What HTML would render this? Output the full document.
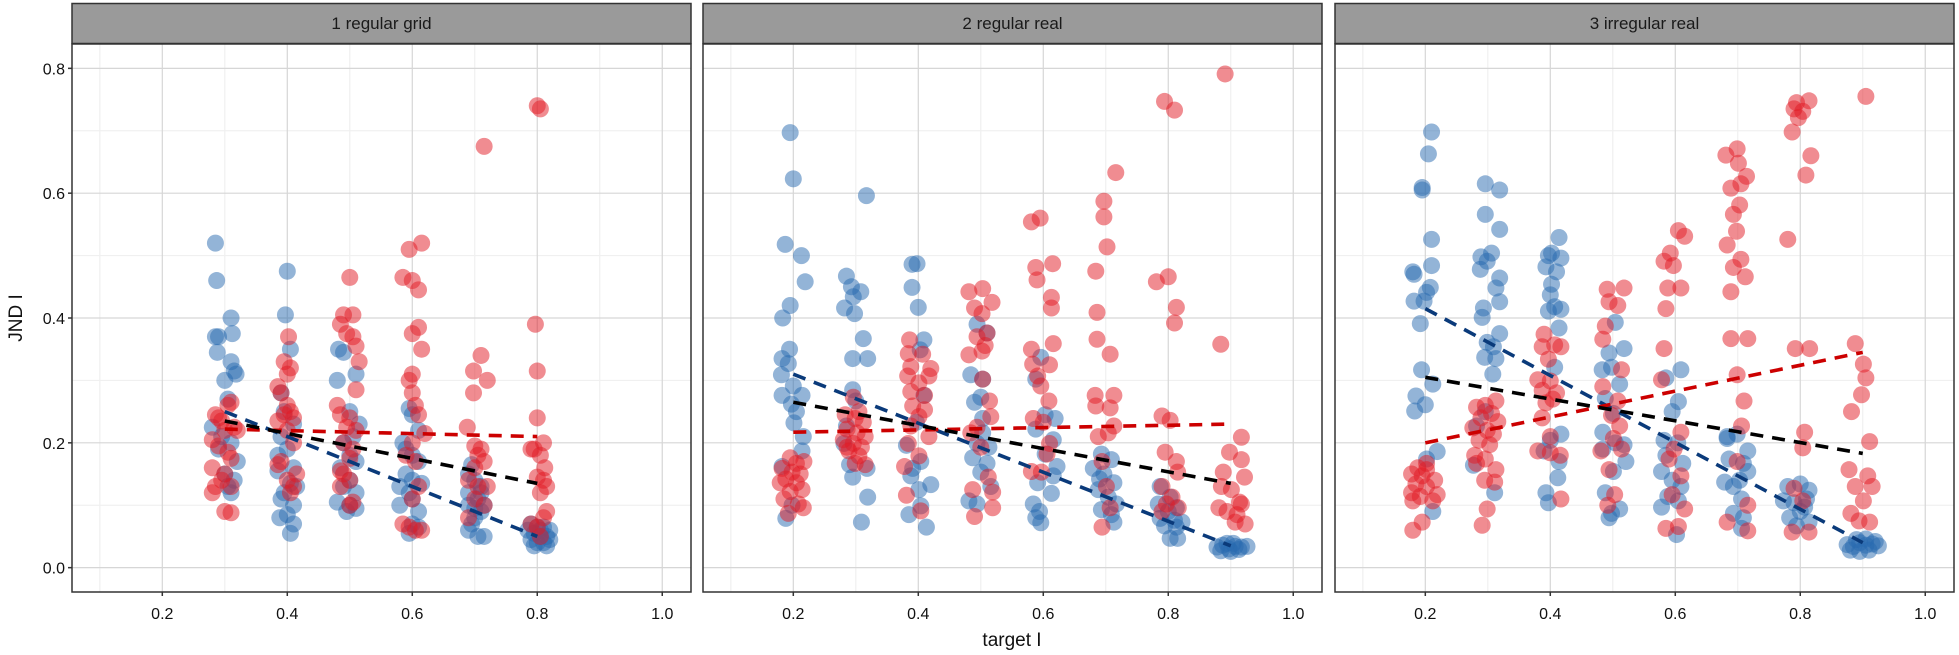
<!DOCTYPE html>
<html><head><meta charset="utf-8"><style>
html,body{margin:0;padding:0;background:#fff;}
svg{display:block;font-family:"Liberation Sans",sans-serif;}
</style></head><body>
<svg id="chart" width="1959" height="655" viewBox="0 0 1959 655" xmlns="http://www.w3.org/2000/svg">
<text x="0" y="0" transform="translate(22,318) rotate(-90)" text-anchor="middle" font-size="19" fill="#111">JND I</text>
<text x="1012" y="646" text-anchor="middle" font-size="19" fill="#111">target I</text>
</svg>
<script>
const panelTitles = ["1 regular grid","2 regular real","3 irregular real"];
const xTicks = [0.2,0.4,0.6,0.8,1.0];
const xTickLabels = ["0.2","0.4","0.6","0.8","1.0"];
const yTicks = [0.0,0.2,0.4,0.6,0.8];
const yTickLabels = ["0.0","0.2","0.4","0.6","0.8"];

const p1Blue = [[0.285,0.52],[0.287,0.46],[0.31,0.40],[0.285,0.37],[0.29,0.37],[0.312,0.375],[0.288,0.345],[0.31,0.33],[0.315,0.315],[0.3,0.30],[0.318,0.31],[0.305,0.27],[0.28,0.225],[0.295,0.21],[0.31,0.2],[0.32,0.17],[0.3,0.15],[0.305,0.13],[0.31,0.12],[0.29,0.19],[0.315,0.14],
[0.4,0.475],[0.397,0.405],[0.405,0.35],[0.39,0.28],[0.395,0.25],[0.41,0.23],[0.39,0.21],[0.385,0.18],[0.4,0.19],[0.41,0.16],[0.385,0.155],[0.405,0.135],[0.395,0.12],[0.41,0.10],[0.39,0.11],[0.388,0.08],[0.4,0.085],[0.41,0.07],[0.405,0.055],[0.415,0.13],
[0.482,0.35],[0.49,0.345],[0.48,0.30],[0.51,0.31],[0.5,0.25],[0.515,0.23],[0.505,0.21],[0.49,0.2],[0.5,0.18],[0.51,0.17],[0.485,0.16],[0.5,0.14],[0.49,0.13],[0.51,0.12],[0.48,0.105],[0.5,0.1],[0.51,0.095],[0.495,0.09],
[0.595,0.255],[0.6,0.245],[0.61,0.22],[0.585,0.2],[0.59,0.19],[0.6,0.18],[0.61,0.17],[0.59,0.15],[0.6,0.14],[0.615,0.135],[0.58,0.13],[0.595,0.12],[0.6,0.11],[0.58,0.1],[0.61,0.09],[0.6,0.07],[0.595,0.055],[0.61,0.065],
[0.695,0.165],[0.69,0.15],[0.7,0.14],[0.71,0.13],[0.69,0.12],[0.705,0.11],[0.69,0.1],[0.7,0.095],[0.71,0.09],[0.7,0.08],[0.695,0.07],[0.69,0.06],[0.705,0.05],[0.715,0.05],[0.71,0.12],[0.715,0.1],
[0.79,0.07],[0.8,0.065],[0.81,0.065],[0.82,0.06],[0.795,0.055],[0.805,0.05],[0.815,0.05],[0.79,0.045],[0.8,0.04],[0.81,0.04],[0.82,0.045],[0.795,0.035],[0.815,0.035],[0.805,0.06],[0.785,0.06]];
const p1Red = [[0.31,0.265],[0.285,0.245],[0.295,0.235],[0.315,0.225],[0.3,0.22],[0.28,0.205],[0.29,0.195],[0.305,0.185],[0.31,0.175],[0.28,0.16],[0.3,0.15],[0.295,0.14],[0.285,0.13],[0.28,0.12],[0.31,0.13],[0.3,0.09],[0.31,0.088],[0.32,0.22],[0.29,0.24],[0.305,0.26],
[0.402,0.37],[0.395,0.33],[0.405,0.32],[0.4,0.31],[0.385,0.29],[0.39,0.28],[0.4,0.26],[0.405,0.25],[0.41,0.24],[0.395,0.245],[0.385,0.235],[0.4,0.22],[0.41,0.2],[0.39,0.17],[0.385,0.165],[0.4,0.14],[0.41,0.13],[0.405,0.12],[0.415,0.15],
[0.5,0.465],[0.49,0.405],[0.505,0.405],[0.485,0.39],[0.495,0.375],[0.505,0.37],[0.51,0.355],[0.515,0.33],[0.51,0.285],[0.48,0.26],[0.485,0.245],[0.5,0.24],[0.495,0.225],[0.51,0.22],[0.49,0.2],[0.505,0.19],[0.5,0.175],[0.485,0.155],[0.49,0.15],[0.5,0.14],[0.485,0.13],[0.505,0.105],[0.5,0.1],
[0.595,0.51],[0.615,0.52],[0.585,0.465],[0.6,0.46],[0.61,0.445],[0.61,0.385],[0.6,0.375],[0.615,0.35],[0.6,0.31],[0.595,0.3],[0.6,0.28],[0.605,0.26],[0.61,0.245],[0.62,0.215],[0.6,0.2],[0.59,0.18],[0.605,0.17],[0.61,0.13],[0.6,0.11],[0.585,0.07],[0.595,0.065],[0.605,0.06],[0.615,0.06],
[0.715,0.675],[0.71,0.34],[0.698,0.315],[0.72,0.3],[0.698,0.28],[0.688,0.225],[0.7,0.195],[0.71,0.19],[0.705,0.18],[0.715,0.17],[0.7,0.16],[0.69,0.14],[0.705,0.13],[0.72,0.13],[0.7,0.11],[0.715,0.1],[0.69,0.08],
[0.8,0.74],[0.805,0.735],[0.797,0.39],[0.8,0.315],[0.8,0.24],[0.81,0.2],[0.795,0.19],[0.79,0.19],[0.805,0.18],[0.812,0.16],[0.8,0.145],[0.81,0.14],[0.815,0.13],[0.805,0.12],[0.815,0.09],[0.81,0.08],[0.8,0.065],[0.79,0.07],[0.805,0.05]];

const p2Blue = [[0.195,0.697],[0.2,0.623],[0.187,0.518],[0.213,0.5],[0.219,0.458],[0.195,0.42],[0.183,0.40],[0.194,0.35],[0.182,0.335],[0.192,0.327],[0.181,0.309],[0.2,0.291],[0.182,0.276],[0.214,0.276],[0.197,0.262],[0.205,0.25],[0.201,0.232],[0.216,0.21],[0.214,0.187],[0.182,0.162],[0.188,0.079],[0.198,0.10],
[0.285,0.467],[0.293,0.45],[0.308,0.442],[0.296,0.434],[0.282,0.416],[0.298,0.407],[0.312,0.367],[0.295,0.335],[0.319,0.335],[0.295,0.285],[0.3,0.267],[0.285,0.227],[0.281,0.199],[0.29,0.165],[0.295,0.145],[0.318,0.159],[0.319,0.113],[0.309,0.073],[0.317,0.596],
[0.39,0.486],[0.398,0.487],[0.39,0.449],[0.4,0.417],[0.409,0.365],[0.403,0.349],[0.409,0.276],[0.397,0.233],[0.381,0.196],[0.404,0.17],[0.388,0.147],[0.42,0.133],[0.401,0.125],[0.404,0.099],[0.385,0.085],[0.413,0.065],[0.391,0.159],
[0.494,0.39],[0.51,0.376],[0.484,0.309],[0.503,0.302],[0.5,0.273],[0.49,0.265],[0.503,0.216],[0.494,0.199],[0.513,0.193],[0.487,0.176],[0.51,0.167],[0.5,0.153],[0.516,0.13],[0.481,0.107],[0.494,0.102],[0.503,0.239],
[0.596,0.337],[0.588,0.302],[0.603,0.245],[0.619,0.239],[0.588,0.222],[0.616,0.205],[0.603,0.182],[0.622,0.162],[0.591,0.136],[0.616,0.147],[0.613,0.119],[0.584,0.102],[0.594,0.09],[0.596,0.072],[0.588,0.08],
[0.693,0.182],[0.709,0.173],[0.68,0.159],[0.697,0.15],[0.713,0.136],[0.688,0.125],[0.704,0.113],[0.717,0.102],[0.693,0.093],[0.709,0.085],[0.713,0.073],[0.69,0.142],
[0.787,0.13],[0.803,0.113],[0.784,0.102],[0.813,0.096],[0.8,0.09],[0.787,0.079],[0.81,0.076],[0.822,0.073],[0.794,0.067],[0.813,0.065],[0.803,0.047],[0.815,0.047],
[0.878,0.033],[0.887,0.036],[0.897,0.03],[0.907,0.034],[0.917,0.033],[0.926,0.034],[0.884,0.027],[0.9,0.026],[0.913,0.029],[0.894,0.039],[0.904,0.039]];
const p2Red = [[0.195,0.176],[0.205,0.167],[0.217,0.17],[0.182,0.159],[0.198,0.153],[0.211,0.15],[0.188,0.142],[0.205,0.136],[0.179,0.136],[0.214,0.125],[0.195,0.122],[0.185,0.11],[0.208,0.102],[0.216,0.096],[0.192,0.087],
[0.296,0.273],[0.305,0.25],[0.283,0.245],[0.299,0.239],[0.312,0.233],[0.286,0.222],[0.302,0.216],[0.315,0.21],[0.28,0.205],[0.296,0.199],[0.309,0.193],[0.289,0.187],[0.305,0.179],[0.315,0.165],[0.299,0.167],[0.286,0.193],
[0.386,0.365],[0.384,0.343],[0.407,0.342],[0.388,0.322],[0.42,0.319],[0.383,0.307],[0.417,0.307],[0.401,0.296],[0.388,0.282],[0.41,0.276],[0.391,0.259],[0.41,0.253],[0.401,0.242],[0.388,0.227],[0.417,0.21],[0.384,0.199],[0.401,0.179],[0.378,0.162],[0.381,0.116],[0.404,0.091],
[0.481,0.442],[0.503,0.447],[0.518,0.425],[0.49,0.416],[0.502,0.407],[0.51,0.376],[0.494,0.37],[0.507,0.356],[0.502,0.347],[0.481,0.341],[0.503,0.302],[0.514,0.267],[0.516,0.242],[0.494,0.225],[0.484,0.216],[0.5,0.193],[0.512,0.145],[0.487,0.125],[0.519,0.121],[0.519,0.096],[0.49,0.082],
[0.581,0.554],[0.595,0.56],[0.588,0.481],[0.59,0.461],[0.615,0.487],[0.613,0.433],[0.613,0.416],[0.616,0.359],[0.581,0.35],[0.583,0.326],[0.61,0.325],[0.591,0.307],[0.596,0.291],[0.609,0.267],[0.584,0.239],[0.6,0.233],[0.61,0.199],[0.581,0.154],[0.597,0.153],[0.606,0.182],
[0.716,0.633],[0.697,0.587],[0.697,0.562],[0.702,0.514],[0.684,0.475],[0.686,0.409],[0.686,0.366],[0.707,0.342],[0.683,0.276],[0.713,0.276],[0.684,0.259],[0.707,0.256],[0.713,0.227],[0.688,0.21],[0.704,0.216],[0.694,0.17],[0.701,0.13],[0.707,0.096],[0.694,0.065],
[0.794,0.747],[0.81,0.733],[0.781,0.458],[0.8,0.466],[0.813,0.417],[0.81,0.392],[0.79,0.243],[0.803,0.236],[0.795,0.185],[0.813,0.17],[0.815,0.153],[0.79,0.13],[0.806,0.113],[0.797,0.102],[0.816,0.096],[0.79,0.09],
[0.891,0.791],[0.884,0.358],[0.917,0.209],[0.898,0.185],[0.917,0.173],[0.888,0.153],[0.922,0.145],[0.885,0.13],[0.901,0.125],[0.914,0.105],[0.881,0.096],[0.917,0.102],[0.894,0.09],[0.91,0.085],[0.923,0.07],[0.907,0.073]];

const p3Blue = [[0.21,0.698],[0.205,0.663],[0.195,0.609],[0.195,0.605],[0.21,0.526],[0.18,0.474],[0.21,0.484],[0.182,0.47],[0.208,0.449],[0.202,0.441],[0.182,0.427],[0.198,0.427],[0.192,0.391],[0.194,0.317],[0.212,0.294],[0.185,0.275],[0.2,0.261],[0.183,0.251],[0.219,0.186],[0.202,0.174],[0.212,0.09],
[0.296,0.615],[0.319,0.605],[0.296,0.566],[0.319,0.542],[0.306,0.504],[0.289,0.498],[0.299,0.491],[0.288,0.478],[0.319,0.464],[0.313,0.448],[0.319,0.426],[0.293,0.416],[0.291,0.401],[0.319,0.375],[0.299,0.361],[0.309,0.354],[0.295,0.337],[0.313,0.335],[0.308,0.31],[0.296,0.25],[0.282,0.227],[0.277,0.164],[0.311,0.12],
[0.414,0.529],[0.402,0.504],[0.397,0.5],[0.417,0.496],[0.393,0.482],[0.41,0.474],[0.402,0.454],[0.4,0.437],[0.417,0.414],[0.397,0.411],[0.407,0.418],[0.414,0.384],[0.407,0.321],[0.417,0.214],[0.4,0.204],[0.414,0.17],[0.412,0.144],[0.393,0.12],[0.397,0.104],[0.39,0.187],
[0.504,0.393],[0.518,0.351],[0.494,0.344],[0.483,0.317],[0.498,0.321],[0.511,0.294],[0.488,0.271],[0.501,0.247],[0.484,0.217],[0.504,0.2],[0.518,0.197],[0.484,0.19],[0.521,0.17],[0.501,0.154],[0.488,0.12],[0.498,0.087],[0.511,0.094],[0.494,0.08],
[0.609,0.317],[0.585,0.304],[0.595,0.25],[0.605,0.266],[0.582,0.204],[0.604,0.2],[0.585,0.18],[0.612,0.167],[0.578,0.154],[0.595,0.14],[0.609,0.13],[0.588,0.114],[0.605,0.107],[0.578,0.097],[0.602,0.053],
[0.683,0.207],[0.699,0.214],[0.716,0.187],[0.686,0.174],[0.709,0.167],[0.679,0.137],[0.703,0.14],[0.716,0.154],[0.693,0.13],[0.706,0.11],[0.693,0.087],[0.709,0.08],[0.706,0.063],[0.683,0.21],
[0.78,0.13],[0.8,0.134],[0.814,0.124],[0.773,0.107],[0.79,0.104],[0.81,0.11],[0.8,0.09],[0.783,0.08],[0.814,0.073],[0.794,0.067],[0.807,0.097],
[0.875,0.037],[0.885,0.034],[0.895,0.04],[0.905,0.036],[0.915,0.038],[0.925,0.035],[0.88,0.028],[0.895,0.026],[0.91,0.028],[0.89,0.045],[0.905,0.046],[0.92,0.042]];
const p3Red = [[0.188,0.16],[0.202,0.157],[0.178,0.15],[0.195,0.147],[0.215,0.14],[0.185,0.134],[0.202,0.13],[0.178,0.12],[0.219,0.117],[0.192,0.114],[0.18,0.107],[0.212,0.107],[0.195,0.073],[0.18,0.06],[0.202,0.167],
[0.282,0.257],[0.296,0.26],[0.313,0.267],[0.306,0.247],[0.289,0.24],[0.316,0.234],[0.276,0.224],[0.299,0.22],[0.309,0.214],[0.286,0.204],[0.303,0.197],[0.279,0.18],[0.296,0.174],[0.282,0.167],[0.313,0.157],[0.295,0.14],[0.311,0.137],[0.299,0.094],[0.291,0.068],
[0.39,0.374],[0.387,0.354],[0.407,0.357],[0.417,0.354],[0.397,0.334],[0.38,0.301],[0.4,0.299],[0.387,0.284],[0.41,0.28],[0.404,0.27],[0.393,0.264],[0.387,0.24],[0.4,0.21],[0.38,0.187],[0.4,0.184],[0.416,0.18],[0.417,0.11],
[0.491,0.446],[0.518,0.448],[0.508,0.42],[0.494,0.426],[0.488,0.387],[0.484,0.366],[0.514,0.317],[0.484,0.29],[0.508,0.267],[0.498,0.244],[0.511,0.227],[0.501,0.207],[0.481,0.187],[0.514,0.19],[0.494,0.157],[0.503,0.117],[0.492,0.1],
[0.592,0.504],[0.605,0.54],[0.615,0.531],[0.582,0.491],[0.597,0.484],[0.588,0.448],[0.609,0.448],[0.585,0.415],[0.582,0.351],[0.578,0.301],[0.609,0.217],[0.598,0.19],[0.59,0.174],[0.609,0.147],[0.595,0.117],[0.615,0.094],[0.585,0.063],[0.605,0.066],
[0.699,0.671],[0.681,0.661],[0.701,0.648],[0.714,0.627],[0.689,0.608],[0.705,0.615],[0.703,0.581],[0.693,0.566],[0.698,0.539],[0.683,0.517],[0.705,0.494],[0.693,0.481],[0.712,0.466],[0.689,0.442],[0.689,0.367],[0.716,0.367],[0.699,0.309],[0.71,0.267],[0.706,0.227],[0.699,0.17],[0.716,0.1],[0.683,0.073],[0.716,0.059],
[0.794,0.745],[0.814,0.748],[0.79,0.735],[0.804,0.731],[0.797,0.721],[0.787,0.698],[0.817,0.66],[0.809,0.629],[0.78,0.526],[0.792,0.351],[0.815,0.351],[0.807,0.217],[0.804,0.192],[0.79,0.127],[0.804,0.107],[0.787,0.057],[0.814,0.057],
[0.905,0.755],[0.888,0.359],[0.901,0.326],[0.905,0.304],[0.898,0.277],[0.882,0.25],[0.911,0.202],[0.878,0.157],[0.908,0.147],[0.888,0.13],[0.915,0.13],[0.901,0.107],[0.881,0.087],[0.894,0.075],[0.911,0.073]];

const blueFitX = [[0.3,0.8],[0.2,0.9],[0.2,0.9]];
const blueFitY = [[0.25,0.05],[0.31,0.035],[0.415,0.04]];
const blackFitX = [[0.3,0.8],[0.2,0.9],[0.2,0.9]];
const blackFitY = [[0.235,0.135],[0.265,0.135],[0.305,0.183]];
const redFitX = [[0.3,0.8],[0.2,0.9],[0.2,0.9]];
const redFitY = [[0.222,0.21],[0.217,0.23],[0.2,0.345]];

const blueSeries = [p1Blue,p2Blue,p3Blue];
const redSeries = [p1Red,p2Red,p3Red];

const NS = "http://www.w3.org/2000/svg";
const svg = document.getElementById("chart");
const panelLeft = [72,703,1335];
const panelW = 619, plotTop = 44, plotBottom = 592;
const xMin = 0.0555, xMax = 1.046, yMin = -0.039, yMax = 0.839;
function xs(p, v){ return panelLeft[p] + (v - xMin) / (xMax - xMin) * panelW; }
function ys(v){ return plotTop + (yMax - v) / (yMax - yMin) * (plotBottom - plotTop); }
function mk(tag, attrs, parent){
  const e = document.createElementNS(NS, tag);
  for (const k in attrs) e.setAttribute(k, attrs[k]);
  (parent || svg).appendChild(e);
  return e;
}

for (let p = 0; p < 3; p++) {
  const g = mk("g", {});
  
  
  const L = panelLeft[p];
  const hdr = mk("rect", {x: L, y: 3.5, width: panelW, height: 40, fill: "#9a9a9a", stroke: "#333", "stroke-width": 1.5}, g);
  
  
  const ht = mk("text", {x: L + panelW / 2, y: 29, "text-anchor": "middle", "font-size": 17, fill: "#1a1a1a"}, g);
  ht.textContent = panelTitles[p];
  
  
  mk("rect", {x: L, y: plotTop, width: panelW, height: plotBottom - plotTop, fill: "#fff"}, g);
  for (let v = 0.1; v < 1.05; v += 0.2) {
    mk("line", {x1: xs(p, v), x2: xs(p, v), y1: plotTop, y2: plotBottom, stroke: "#f0f0f0", "stroke-width": 1.2}, g);
  }
  for (let v = 0.1; v < 0.8; v += 0.2) {
    mk("line", {x1: L, x2: L + panelW, y1: ys(v), y2: ys(v), stroke: "#f0f0f0", "stroke-width": 1.2}, g);
  }
  xTicks.forEach(v => mk("line", {x1: xs(p, v), x2: xs(p, v), y1: plotTop, y2: plotBottom, stroke: "#d6d6d6", "stroke-width": 1.2}, g));
  yTicks.forEach(v => mk("line", {x1: L, x2: L + panelW, y1: ys(v), y2: ys(v), stroke: "#d6d6d6", "stroke-width": 1.2}, g));
  blueSeries[p].forEach(d => {
    const c = mk("circle", {cx: xs(p, d[0]), cy: ys(d[1]), r: 8.5, fill: "rgb(40,105,175)", "fill-opacity": 0.5}, g);
    
    
  });
  redSeries[p].forEach(d => {
    const c = mk("circle", {cx: xs(p, d[0]), cy: ys(d[1]), r: 8.5, fill: "rgb(225,25,35)", "fill-opacity": 0.5}, g);
    
    
  });
  const fits = [[blueFitX, blueFitY, "#0a3a7a", "blue-fit-line"], [redFitX, redFitY, "#cc0000", "red-fit-line"], [blackFitX, blackFitY, "#000", "black-fit-line"]];
  fits.forEach(f => {
    const ln = mk("line", {x1: xs(p, f[0][p][0]), x2: xs(p, f[0][p][1]), y1: ys(f[1][p][0]), y2: ys(f[1][p][1]), stroke: f[2], "stroke-width": 3.6, "stroke-dasharray": "13 9"}, g);
    
    
  });
  mk("rect", {x: L, y: plotTop, width: panelW, height: plotBottom - plotTop, fill: "none", stroke: "#333", "stroke-width": 1.5}, g);
  xTicks.forEach((v, i) => {
    mk("line", {x1: xs(p, v), x2: xs(p, v), y1: plotBottom, y2: plotBottom + 4, stroke: "#333", "stroke-width": 1.5}, g);
    const t = mk("text", {x: xs(p, v), y: 619, "text-anchor": "middle", "font-size": 16, fill: "#111"}, g);
    t.textContent = xTickLabels[i];
    
    
  });
  if (p === 0) {
    yTicks.forEach((v, i) => {
      mk("line", {x1: L - 4, x2: L, y1: ys(v), y2: ys(v), stroke: "#333", "stroke-width": 1.5}, g);
      const t = mk("text", {x: L - 7, y: ys(v) + 6, "text-anchor": "end", "font-size": 16, fill: "#111"}, g);
      t.textContent = yTickLabels[i];
      
      
    });
  }
}
</script>
</body></html>
